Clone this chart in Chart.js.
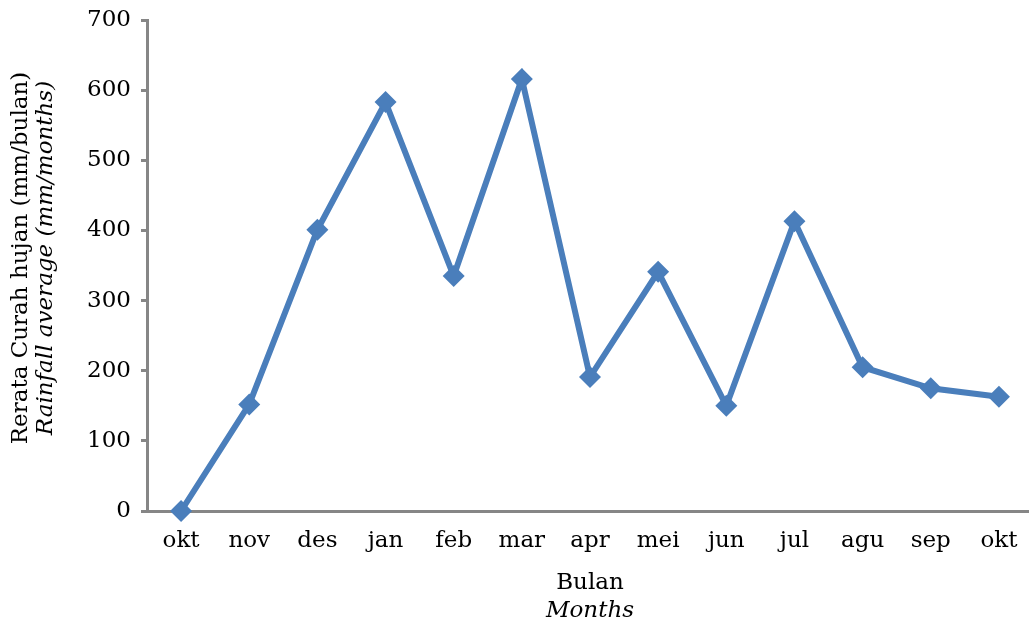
<!DOCTYPE html>
<html>
<head>
<meta charset="utf-8">
<script src="https://cdn.jsdelivr.net/npm/chart.js@4/dist/chart.umd.min.js"></script>
<style>
  html, body { margin: 0; padding: 0; background: #fff; overflow: hidden; }
  #wrap { width: 1036px; height: 625px; }
</style>
</head>
<body>
<div id="wrap"><canvas id="c" width="1036" height="625"></canvas></div>
<script>
// Monthly rainfall averages (mm/month)
const months = ['okt', 'nov', 'des', 'jan', 'feb', 'mar', 'apr', 'mei', 'jun', 'jul', 'agu', 'sep', 'okt'];
const rainfall = [0, 152, 401, 583, 335, 616, 191, 341, 150, 413, 205, 175, 163];
const yTicks = [0, 100, 200, 300, 400, 500, 600, 700];

const yTitle = ['Rerata Curah hujan (mm/bulan)', 'Rainfall average (mm/months)'];
const xTitle = ['Bulan', 'Months'];

const FONT = '"DejaVu Serif", "Liberation Serif", serif';
const FSIZE = 23;
const AXIS = '#868686';
const TEXT = '#000';

// Two-line axis titles, second line in italics
const axisTitles = {
  id: 'axisTitles',
  afterDraw(chart) {
    const { ctx, chartArea } = chart;
    ctx.save();
    ctx.fillStyle = TEXT;
    ctx.textAlign = 'center';
    ctx.textBaseline = 'middle';
    ctx.translate(21, 258);
    ctx.rotate(-Math.PI / 2);
    ctx.font = FSIZE + 'px ' + FONT;
    ctx.fillText(yTitle[0], 0, 0);
    ctx.font = 'italic ' + FSIZE + 'px ' + FONT;
    ctx.fillText(yTitle[1], 0, 25);
    ctx.restore();

    ctx.save();
    ctx.fillStyle = TEXT;
    ctx.textAlign = 'center';
    ctx.textBaseline = 'middle';
    const cx = (chartArea.left + chartArea.right) / 2;
    ctx.font = FSIZE + 'px ' + FONT;
    ctx.fillText(xTitle[0], cx, 583);
    ctx.font = 'italic ' + FSIZE + 'px ' + FONT;
    ctx.fillText(xTitle[1], cx, 611);
    ctx.restore();
  }
};

new Chart(document.getElementById('c'), {
  type: 'line',
  data: {
    labels: months,
    datasets: [{
      data: rainfall,
      borderColor: '#4a7ebb',
      backgroundColor: '#4a7ebb',
      borderWidth: 6,
      pointStyle: 'rectRot',
      pointRadius: 11,
      pointHoverRadius: 11,
      pointBorderWidth: 0,
      tension: 0,
      fill: false,
      clip: false
    }]
  },
  options: {
    responsive: false,
    animation: false,
    events: [],
    layout: { autoPadding: false, padding: { top: 20, right: 3, left: 0, bottom: 0 } },
    plugins: { legend: { display: false }, tooltip: { enabled: false } },
    scales: {
      x: {
        offset: true,
        grid: { display: false, drawOnChartArea: false },
        border: { display: true, color: AXIS, width: 3 },
        ticks: { color: TEXT, font: { family: FONT, size: FSIZE }, padding: 8, maxRotation: 0, autoSkip: false },
        afterFit(scale) {
          scale.height = 114;
          scale.paddingLeft = 0;
          scale.paddingRight = 0;
        }
      },
      y: {
        min: 0,
        max: 700,
        afterBuildTicks(scale) { scale.ticks = yTicks.map(v => ({ value: v })); },
        grid: { drawOnChartArea: false, color: AXIS, lineWidth: 3, tickLength: 6 },
        border: { display: true, color: AXIS, width: 3 },
        ticks: { color: TEXT, font: { family: FONT, size: FSIZE }, padding: 10 },
        afterFit(scale) {
          scale.width = 147;
          scale.paddingTop = 0;
          scale.paddingBottom = 0;
        }
      }
    }
  },
  plugins: [axisTitles]
});
</script>
</body>
</html>
